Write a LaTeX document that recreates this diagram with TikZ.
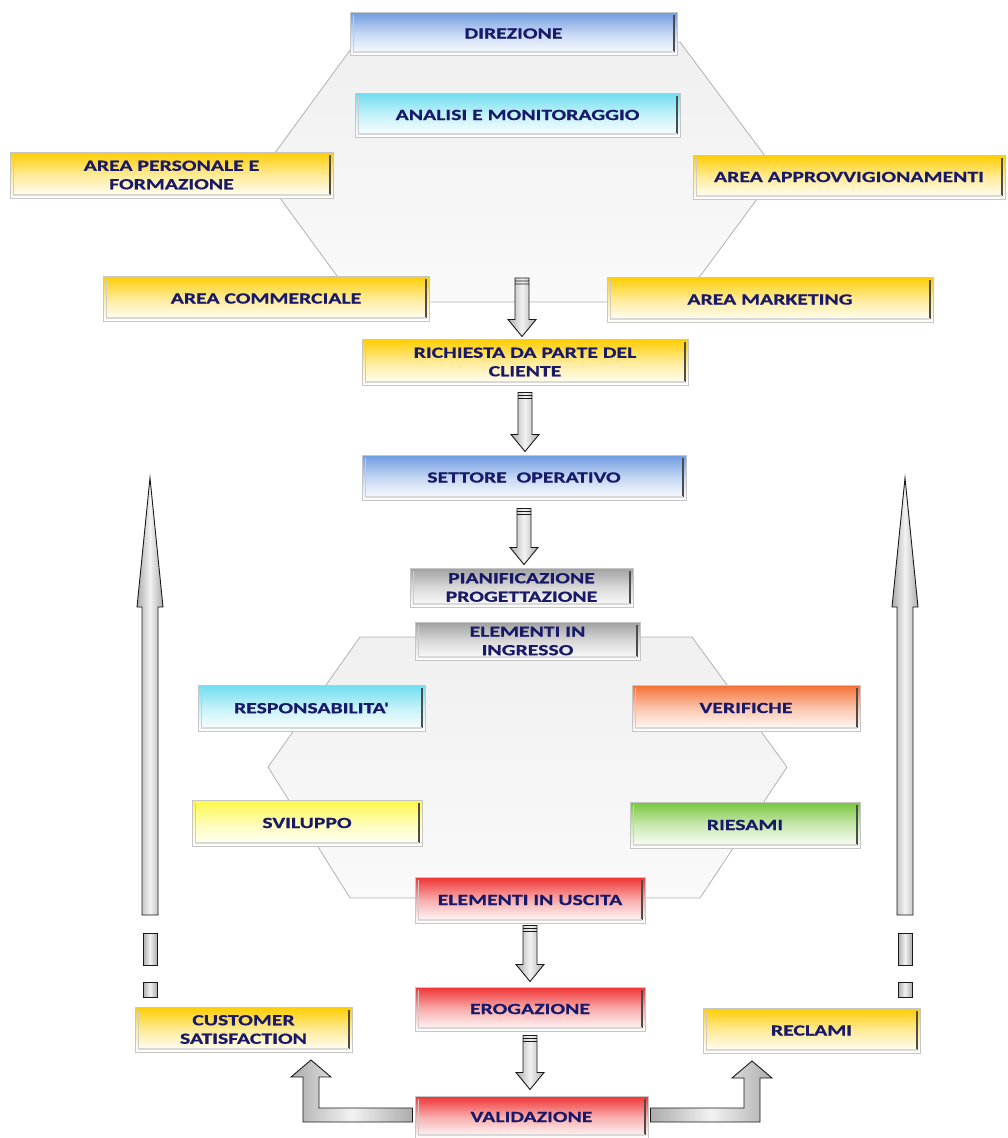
\documentclass[tikz,border=0pt]{standalone}
\usepackage{fontspec}
\newfontfamily\boxfont[FakeStretch=1.4, BoldFont=Carlito Bold, BoldFeatures={FakeBold=0.6}]{Carlito}
\usetikzlibrary{calc}
\definecolor{navy}{RGB}{25,25,105}
\definecolor{cBlue}{RGB}{110,155,225}
\definecolor{cCyan}{RGB}{110,222,240}
\definecolor{cYel}{RGB}{255,205,0}
\definecolor{cLYel}{RGB}{255,248,70}
\definecolor{cGray}{RGB}{160,160,160}
\definecolor{cRed}{RGB}{240,50,50}
\definecolor{cOra}{RGB}{245,110,50}
\definecolor{cGrn}{RGB}{120,198,60}
\tikzset{
  box/.style={rectangle, draw=gray!45, line width=1pt, top color=#1, bottom color=white,
    middle color=#1!40!white, inner sep=0pt, text=navy, align=center,
    font=\boxfont\bfseries\fontsize{15.5}{18.5}\selectfont,
    path picture={
      \draw[gray!60!black, line width=1.6pt]
        ([shift={(-3pt,-3pt)}]path picture bounding box.north east) --
        ([shift={(-3pt,3pt)}]path picture bounding box.south east);
      \draw[gray!30, line width=1.6pt]
        ([shift={(3pt,3pt)}]path picture bounding box.south west) --
        ([shift={(-3pt,3pt)}]path picture bounding box.south east);
      \draw[gray!40, line width=1pt]
        ([shift={(3pt,-3pt)}]path picture bounding box.north west) --
        ([shift={(3pt,3pt)}]path picture bounding box.south west);
    }},
  sz/.style 2 args={minimum width=#1pt, minimum height=#2pt},
  hexa/.style={draw=gray!60, line width=0.8pt, top color=gray!12, bottom color=gray!4},
  blockarrow/.style={draw=gray!20!black, line width=0.9pt, left color=gray!65,
    right color=gray!65, middle color=gray!10},
  downarrow/.style={to path={let \p1=(\tikztostart), \p2=(\tikztotarget) in
    (\x1-7pt,\y1) -- (\x1+7pt,\y1) -- (\x1+7pt,\y2+17pt) -- (\x1+14pt,\y2+17pt) --
    (\x1,\y2) -- (\x1-14pt,\y2+17pt) -- (\x1-7pt,\y2+17pt) -- cycle
    (\x1-7pt,\y1-3pt) -- (\x1+7pt,\y1-3pt) (\x1-7pt,\y1-6pt) -- (\x1+7pt,\y1-6pt)}},
  bigup/.style={to path={let \p1=(\tikztostart), \p2=(\tikztotarget) in
    (\x1-8pt,\y1) -- (\x1-8pt,\y2-129pt) -- (\x1-13pt,\y2-129pt) -- (\x1,\y2) --
    (\x1+13pt,\y2-129pt) -- (\x1+8pt,\y2-129pt) -- (\x1+8pt,\y1) -- cycle}},
  elbowleft/.style={to path={let \p1=(\tikztostart), \p2=(\tikztotarget) in
    (\x1,\y1+7pt) -- (\x2+8pt,\y1+7pt) -- (\x2+8pt,\y2-17pt) -- (\x2+20pt,\y2-17pt) --
    (\x2,\y2) -- (\x2-20pt,\y2-17pt) -- (\x2-8pt,\y2-17pt) -- (\x2-8pt,\y1-7pt) --
    (\x1,\y1-7pt) -- cycle}},
  elbowright/.style={to path={let \p1=(\tikztostart), \p2=(\tikztotarget) in
    (\x1,\y1+7pt) -- (\x2-8pt,\y1+7pt) -- (\x2-8pt,\y2-17pt) -- (\x2-20pt,\y2-17pt) --
    (\x2,\y2) -- (\x2+20pt,\y2-17pt) -- (\x2+8pt,\y2-17pt) -- (\x2+8pt,\y1-7pt) --
    (\x1,\y1-7pt) -- cycle}},
  dashbox/.style={draw=gray!20!black, line width=0.9pt, left color=gray!65,
    right color=gray!65, middle color=gray!10}
}
\begin{document}
\begin{tikzpicture}[x=1pt,y=-1pt]
\useasboundingbox[fill=white] (0,0) rectangle (1007,1138);

% hexagons
\draw[hexa] (356,42) -- (680,42) -- (777,172) -- (681,302) -- (356,302) -- (261,172) -- cycle;
\draw[hexa] (360,637) -- (692,637) -- (787,767) -- (700,898) -- (350,898) -- (268,767) -- cycle;

% coordinates for free arrow ends
\coordinate (a1s) at (522,278);
\coordinate (blA) at (150,915);
\coordinate (blB) at (150,478);
\coordinate (brA) at (905,915);
\coordinate (brB) at (905,478);
\coordinate (elL) at (311,1060);
\coordinate (elR) at (752,1061);

% big side arrows
\path[blockarrow] (blA) to[bigup] (blB);
\path[blockarrow] (brA) to[bigup] (brB);
\draw[dashbox] (143,933) rectangle (157,965);
\draw[dashbox] (143,982) rectangle (157,997);
\draw[dashbox] (898,933) rectangle (912,965);
\draw[dashbox] (898,982) rectangle (912,997);

% boxes
\node[box=cBlue, sz={327}{43}] (dir) at (513.5,33.5) {DIREZIONE};
\node[box=cCyan, sz={325}{44}] (ana) at (517.5,115) {ANALISI E MONITORAGGIO};
\node[box=cYel, sz={323}{46}] (pers) at (171.5,175) {AREA PERSONALE E\\FORMAZIONE};
\node[box=cYel, sz={312}{44}] (appr) at (849,177) {AREA APPROVVIGIONAMENTI};
\node[box=cYel, sz={326}{45}] (comm) at (266,298.5) {AREA COMMERCIALE};
\node[box=cYel, sz={326}{45}] (mark) at (770,299.5) {AREA MARKETING};
\node[box=cYel, sz={326}{46}] (rich) at (525,362) {RICHIESTA DA PARTE DEL\\CLIENTE};
\node[box=cBlue, sz={324}{45}] (sett) at (524,477.5) {SETTORE~~OPERATIVO};
\node[box=cGray, sz={223}{39}] (pian) at (521.5,587.5) {PIANIFICAZIONE\\PROGETTAZIONE};
\node[box=cGray, sz={225}{38}] (ingr) at (527.5,641) {ELEMENTI IN\\INGRESSO};
\node[box=cCyan, sz={227}{46}] (resp) at (311.5,708) {RESPONSABILITA'};
\node[box=cOra, sz={228}{46}] (ver) at (746,708) {VERIFICHE};
\node[box=cLYel, sz={230}{46}] (svil) at (307,823) {SVILUPPO};
\node[box=cGrn, sz={230}{46}] (ries) at (745,825) {RIESAMI};
\node[box=cRed, sz={230}{46}] (usc) at (530,900) {ELEMENTI IN USCITA};
\node[box=cRed, sz={230}{44}] (erog) at (530,1009) {EROGAZIONE};
\node[box=cRed, sz={233}{42}] (val) at (531.5,1117) {VALIDAZIONE};
\node[box=cYel, sz={217}{45}] (cust) at (243.5,1029.5) {CUSTOMER\\SATISFACTION};
\node[box=cYel, sz={217}{45}] (recl) at (811.5,1030.5) {RECLAMI};

% flow arrows
\path[blockarrow] (a1s) to[downarrow] ([yshift=2pt]rich.north);
\path[blockarrow] ([yshift=-7pt]rich.south) to[downarrow] ([yshift=3pt]sett.north);
\path[blockarrow] ([yshift=-8pt]sett.south) to[downarrow] ([yshift=3pt]pian.north);
\path[blockarrow] ([yshift=-2pt]usc.south) to[downarrow] ([yshift=5pt]erog.north);
\path[blockarrow] ([yshift=-4pt]erog.south) to[downarrow] ([yshift=6pt]val.north);
\path[blockarrow] ([shift={(-2pt,2pt)}]val.west) to[elbowleft] (elL);
\path[blockarrow] ([shift={(2pt,2pt)}]val.east) to[elbowright] (elR);
\end{tikzpicture}
\end{document}
